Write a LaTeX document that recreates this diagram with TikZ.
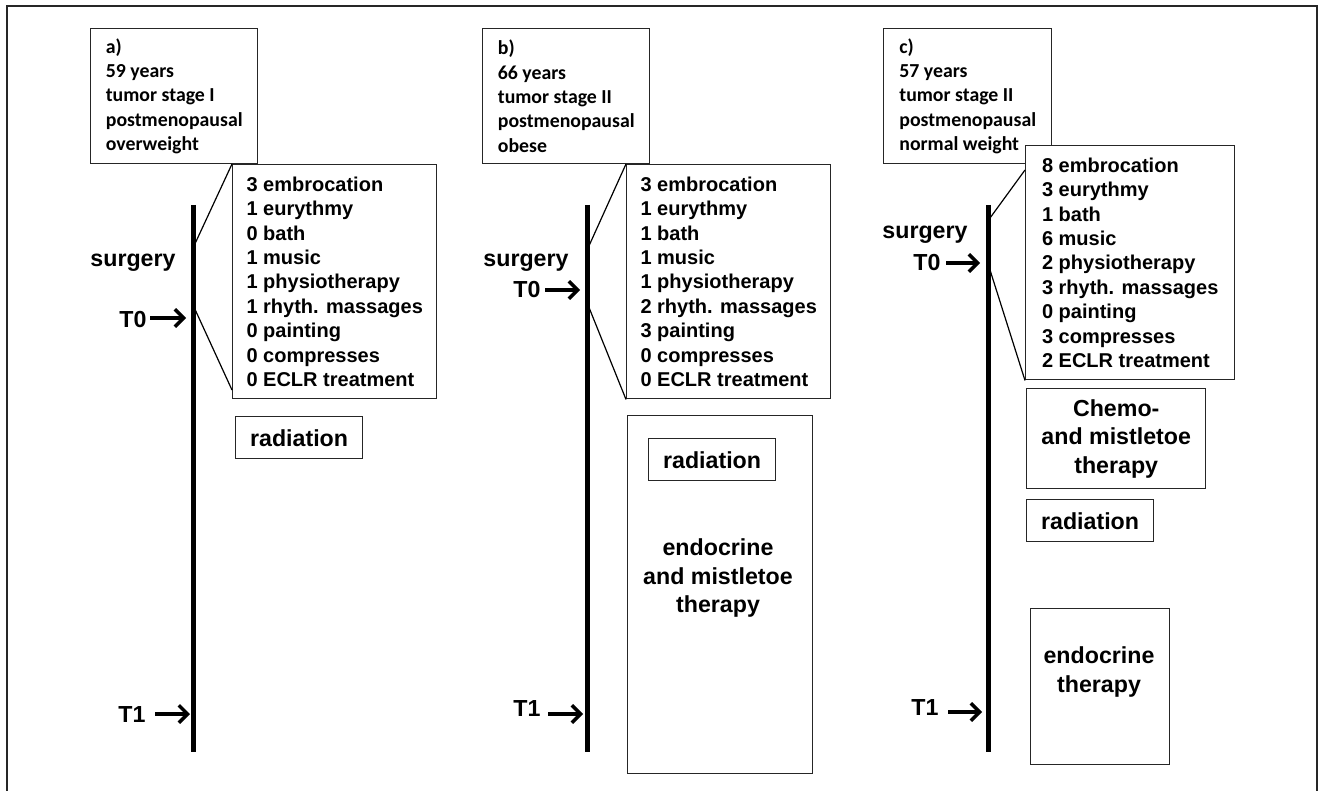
\documentclass[tikz,border=0pt]{standalone}
\usepackage{fontspec}
\setmainfont{Liberation Sans}
\newfontfamily\carl{Carlito}
\usetikzlibrary{arrows.meta}
\begin{document}
\begin{tikzpicture}[x=0.75pt,y=-0.75pt,
  box/.style={draw=black!85, line width=1.1pt, fill=white, inner sep=0pt, anchor=north west},
  infobox/.style={box, align=left, font=\carl\bfseries\fontsize{14.85pt}{18.2pt}\selectfont},
  listbox/.style={box, align=left, font=\bfseries\fontsize{15pt}{18.3pt}\selectfont},
  bigfont/.style={font=\bfseries\fontsize{17.4pt}{21.4pt}\selectfont},
  bigtxt/.style={bigfont, align=center, inner sep=0pt},
  radbox/.style={box, bigfont, minimum width=95pt, minimum height=31.5pt},
  timeline/.style={line width=3.75pt},
  conn/.style={line width=0.9pt},
  arr/.style={line width=2.6pt, -{Straight Barb[length=6.5pt,width=13pt]}},
]
\useasboundingbox (0,0) rectangle (1319,791);
% outer frame
\coordinate (fBL) at (7,791);
\coordinate (fTL) at (7,6);
\coordinate (fTR) at (1317,6);
\coordinate (fBR) at (1317,791);
\draw[line width=1.4pt, black!85] (fBL) -- (fTL) -- (fTR) -- (fBR);

%% ---------------- panel a ----------------
\coordinate (aTop) at (193,205);
\coordinate (aBot) at (193,752);
\draw[timeline] (aTop) -- (aBot);
\node[infobox, minimum width=125.25pt, minimum height=101.25pt] (infoA) at (90,28)
  {a)\\59 years\\tumor stage I\\postmenopausal\\overweight};
\node[listbox, minimum width=153pt, minimum height=175.5pt] (listA) at (232,164)
  {3 embrocation\\1 eurythmy\\0 bath\\1 music\\1 physiotherapy\\1 rhyth. massages\\0 painting\\0 compresses\\0 ECLR treatment};
\coordinate (aC1) at (193,248);
\coordinate (aC2) at (193,305);
\coordinate (aL2) at (232,390);
\draw[conn] (aC1) -- (listA.north west);
\draw[conn] (aC2) -- (aL2);
\node[bigtxt] (surgA) at (133,263) {surgery};
\node[bigtxt] (t0A) at (133,320) {T0};
\coordinate (aT0) at (186,318);
\draw[arr] (150,318) -- (aT0);
\node[bigtxt] (t1A) at (132,715) {T1};
\coordinate (aT1) at (190,714);
\draw[arr] (155,714) -- (aT1);
\node[radbox] (radA) at (235,416) {radiation};

%% ---------------- panel b ----------------
\coordinate (bTop) at (587,205);
\coordinate (bBot) at (587,752);
\draw[timeline] (bTop) -- (bBot);
\node[infobox, minimum width=125.25pt, minimum height=101.25pt] (infoB) at (482,28)
  {b)\\66 years\\tumor stage II\\postmenopausal\\obese\hphantom{pausal}};
\node[listbox, minimum width=153pt, minimum height=175.5pt] (listB) at (626,164)
  {3 embrocation\\1 eurythmy\\1 bath\\1 music\\1 physiotherapy\\2 rhyth. massages\\3 painting\\0 compresses\\0 ECLR treatment};
\coordinate (bC1) at (588,248);
\coordinate (bC2) at (588,305);
\draw[conn] (bC1) -- (listB.north west);
\draw[conn] (bC2) -- (listB.south west);
\node[bigtxt] (surgB) at (526,263) {surgery};
\node[bigtxt] (t0B) at (527,290) {T0};
\coordinate (bT0) at (580,290);
\draw[arr] (545,290) -- (bT0);
\node[bigtxt] (t1B) at (527,709) {T1};
\coordinate (bT1) at (583,714);
\draw[arr] (548,714) -- (bT1);
\node[box, minimum width=138.75pt, minimum height=268.5pt] (endoB) at (627,415) {};
\node[radbox] (radB) at (648,438) {radiation};
\node[bigtxt] (endoBt) at (718,578) {endocrine\\and mistletoe\\therapy};

%% ---------------- panel c ----------------
\coordinate (cTop) at (988,205);
\coordinate (cBot) at (988,752);
\draw[timeline] (cTop) -- (cBot);
\node[infobox, minimum width=126pt, minimum height=101.25pt] (infoC) at (883,28)
  {c)\\57 years\\tumor stage II\\postmenopausal\\normal weight};
\node[listbox, minimum width=156.75pt, minimum height=175.5pt] (listC) at (1025,145)
  {8 embrocation\\3 eurythmy\\1 bath\\6 music\\2 physiotherapy\\3 rhyth. massages\\0 painting\\3 compresses\\2 ECLR treatment};
\coordinate (cC1) at (990,218);
\coordinate (cL1) at (1025,170);
\coordinate (cC2) at (990,270);
\draw[conn] (cC1) -- (cL1);
\draw[conn] (cC2) -- (listC.south west);
\node[bigtxt] (surgC) at (925,235) {surgery};
\node[bigtxt] (t0C) at (927,263) {T0};
\coordinate (cT0) at (980,263);
\draw[arr] (946,263) -- (cT0);
\node[bigtxt] (t1C) at (925,708) {T1};
\coordinate (cT1) at (982,712);
\draw[arr] (948,712) -- (cT1);
\node[box, bigfont, align=center, minimum width=134.25pt, minimum height=75pt] (chemoC) at (1026,388)
  {Chemo-\\and mistletoe\\therapy};
\node[radbox] (radC) at (1026,499) {radiation};
\node[box, minimum width=104.25pt, minimum height=117pt] (endoC) at (1030,608) {};
\node[bigtxt] (endoCt) at (1099,672) {endocrine\\therapy};
\end{tikzpicture}
\end{document}
